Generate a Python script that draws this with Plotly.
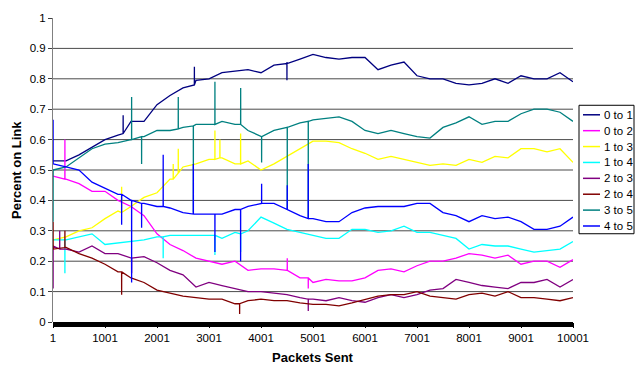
import plotly.graph_objects as go

# sample positions along the packet axis (category numbers)
packets = list(range(1, 10002, 250))

series_names = ["0 to 1", "0 to 2", "1 to 3", "1 to 4", "2 to 3", "2 to 4", "3 to 5", "4 to 5"]
series_colors = ["#000080", "#FF00FF", "#FFFF00", "#00FFFF", "#800080", "#800000", "#008080", "#0000FF"]

x_tick_vals = [1, 1001, 2001, 3001, 4001, 5001, 6001, 7001, 8001, 9001, 10001]
x_tick_text = ["1", "1001", "2001", "3001", "4001", "5001", "6001", "7001", "8001", "9001", "10001"]
y_tick_vals = [0, 0.1, 0.2, 0.3, 0.4, 0.5, 0.6, 0.7, 0.8, 0.9, 1.0]
y_tick_text = ["0", "0.1", "0.2", "0.3", "0.4", "0.5", "0.6", "0.7", "0.8", "0.9", "1"]

# ---- values read at each sample position ----
s01 = [0.53, 0.53, 0.55, 0.575, 0.60, 0.615, 0.66, 0.66, 0.715, 0.745, 0.77, 0.795, 0.80, 0.82,
       0.825, 0.83, 0.82, 0.845, 0.855, 0.865, 0.88, 0.87, 0.865, 0.87, 0.87, 0.83, 0.845, 0.855,
       0.81, 0.80, 0.80, 0.785, 0.78, 0.785, 0.80, 0.785, 0.81, 0.80, 0.80, 0.82, 0.79]
s02 = [0.48, 0.47, 0.455, 0.43, 0.43, 0.40, 0.38, 0.35, 0.29, 0.255, 0.235, 0.21, 0.20, 0.19,
       0.20, 0.17, 0.175, 0.175, 0.17, 0.145, 0.13, 0.14, 0.135, 0.135, 0.145, 0.17, 0.175, 0.165,
       0.185, 0.20, 0.20, 0.21, 0.225, 0.22, 0.21, 0.22, 0.19, 0.20, 0.20, 0.18, 0.205]
s13 = [0.27, 0.28, 0.30, 0.31, 0.34, 0.365, 0.38, 0.41, 0.425, 0.47, 0.51, 0.52, 0.535, 0.54,
       0.52, 0.53, 0.50, 0.52, 0.545, 0.57, 0.595, 0.595, 0.59, 0.57, 0.555, 0.535, 0.545, 0.535,
       0.525, 0.515, 0.52, 0.515, 0.535, 0.525, 0.545, 0.54, 0.57, 0.57, 0.56, 0.57, 0.525]
s14 = [0.27, 0.27, 0.28, 0.29, 0.255, 0.26, 0.265, 0.27, 0.28, 0.285, 0.285, 0.285, 0.285, 0.275,
       0.295, 0.30, 0.345, 0.325, 0.305, 0.295, 0.285, 0.275, 0.275, 0.305, 0.305, 0.295, 0.30, 0.315,
       0.295, 0.295, 0.285, 0.275, 0.24, 0.255, 0.25, 0.25, 0.24, 0.23, 0.235, 0.24, 0.265]
s23 = [0.25, 0.24, 0.23, 0.25, 0.225, 0.225, 0.21, 0.215, 0.195, 0.17, 0.155, 0.115, 0.13, 0.12,
       0.11, 0.10, 0.10, 0.095, 0.09, 0.08, 0.075, 0.07, 0.08, 0.07, 0.065, 0.08, 0.09, 0.08,
       0.09, 0.105, 0.11, 0.14, 0.13, 0.12, 0.115, 0.11, 0.13, 0.13, 0.14, 0.115, 0.14]
s24 = [0.24, 0.245, 0.225, 0.21, 0.19, 0.165, 0.145, 0.13, 0.105, 0.095, 0.085, 0.08, 0.075, 0.075,
       0.06, 0.07, 0.075, 0.07, 0.07, 0.063, 0.058, 0.058, 0.053, 0.063, 0.074, 0.085, 0.09, 0.09,
       0.10, 0.085, 0.08, 0.075, 0.09, 0.095, 0.085, 0.10, 0.08, 0.08, 0.075, 0.07, 0.08]
s35 = [0.50, 0.51, 0.54, 0.57, 0.585, 0.59, 0.60, 0.61, 0.63, 0.63, 0.64, 0.65, 0.65, 0.66,
       0.65, 0.63, 0.61, 0.63, 0.64, 0.655, 0.665, 0.67, 0.675, 0.66, 0.63, 0.62, 0.63, 0.62,
       0.61, 0.605, 0.64, 0.655, 0.675, 0.65, 0.66, 0.66, 0.685, 0.70, 0.70, 0.69, 0.66]
s45 = [0.53, 0.51, 0.50, 0.46, 0.44, 0.42, 0.40, 0.39, 0.38, 0.375, 0.36, 0.355, 0.355, 0.355,
       0.37, 0.38, 0.39, 0.39, 0.37, 0.35, 0.34, 0.33, 0.33, 0.36, 0.375, 0.38, 0.38, 0.38,
       0.39, 0.39, 0.36, 0.35, 0.33, 0.35, 0.34, 0.345, 0.33, 0.305, 0.305, 0.315, 0.345]

# ---- single-packet spikes: position, level around it, spike value ----
s01_spike_at = [1350, 2720, 4500]
s01_spike_base = [0.62, 0.78, 0.85]
s01_spike_peak = [0.68, 0.84, 0.795]

s02_spike_at = [230, 4506, 4910]
s02_spike_base = [0.47, 0.17, 0.145]
s02_spike_peak = [0.60, 0.21, 0.11]

s13_spike_at = [1321, 2313, 2410, 3115, 3211, 3609]
s13_spike_base = [0.36, 0.47, 0.49, 0.535, 0.54, 0.52]
s13_spike_peak = [0.445, 0.52, 0.57, 0.63, 0.60, 0.62]

s14_spike_at = [230, 2120, 3115, 3609]
s14_spike_base = [0.27, 0.28, 0.285, 0.29]
s14_spike_peak = [0.16, 0.21, 0.22, 0.23]

s23_spike_at = [3, 130, 1513, 4910]
s23_spike_base = [0.25, 0.24, 0.21, 0.075]
s23_spike_peak = [0.11, 0.30, 0.16, 0.036]

s24_spike_at = [3, 230, 1321, 3590]
s24_spike_base = [0.24, 0.245, 0.165, 0.06]
s24_spike_peak = [0.33, 0.30, 0.09, 0.026]

s35_spike_at = [3, 1513, 1705, 2410, 2700, 3115, 3610, 4013, 4506, 4910]
s35_spike_base = [0.50, 0.60, 0.61, 0.635, 0.645, 0.65, 0.65, 0.61, 0.64, 0.66]
s35_spike_peak = [0.33, 0.74, 0.52, 0.74, 0.36, 0.79, 0.77, 0.525, 0.37, 0.34]

s45_spike_at = [3, 1321, 1513, 1705, 2120, 2700, 3115, 3609, 4013, 4506, 4910]
s45_spike_base = [0.52, 0.42, 0.40, 0.39, 0.38, 0.355, 0.355, 0.37, 0.39, 0.37, 0.34]
s45_spike_peak = [0.665, 0.32, 0.13, 0.31, 0.55, 0.52, 0.23, 0.20, 0.455, 0.45, 0.52]

series_values = [s01, s02, s13, s14, s23, s24, s35, s45]
series_spikes = [
    (s01_spike_at, s01_spike_base, s01_spike_peak),
    (s02_spike_at, s02_spike_base, s02_spike_peak),
    (s13_spike_at, s13_spike_base, s13_spike_peak),
    (s14_spike_at, s14_spike_base, s14_spike_peak),
    (s23_spike_at, s23_spike_base, s23_spike_peak),
    (s24_spike_at, s24_spike_base, s24_spike_peak),
    (s35_spike_at, s35_spike_base, s35_spike_peak),
    (s45_spike_at, s45_spike_base, s45_spike_peak),
]


def build(vals, spikes):
    pts = list(zip(packets, vals))
    at, base, peak = spikes
    for a, b, p in zip(at, base, peak):
        pts += [(a - 1, b), (a, p), (a + 1, b)]
    pts.sort(key=lambda t: t[0])
    return [t[0] for t in pts], [t[1] for t in pts]


FONT = "Arial, 'Liberation Sans', sans-serif"
W, H = 635, 372
L, R, T, B = 53, 62, 12, 50
PW, PH = W - L - R, H - T - B


def px_x(px):
    return (px - L) / PW


def px_y(py):
    return (H - B - py) / PH


fig = go.Figure()
for name, color, vals, spk in zip(series_names, series_colors, series_values, series_spikes):
    xs, ys = build(vals, spk)
    fig.add_trace(go.Scatter(x=xs, y=ys, mode="lines", name=name,
                             line=dict(color=color, width=1.3), showlegend=False,
                             hoverinfo="skip"))

shapes = []
# horizontal gridlines 0.1..0.9
for v in y_tick_vals[1:-1]:
    shapes.append(dict(type="line", xref="paper", yref="y", x0=0, x1=1, y0=v, y1=v,
                       line=dict(color="#4a4a4a", width=1), layer="below"))
# dense category tick band along the x axis
shapes.append(dict(type="rect", xref="x", yref="paper", x0=1, x1=10001,
                   y0=0, y1=-5 / PH, fillcolor="black", line=dict(width=0)))

annotations = []
# legend box
shapes.append(dict(type="rect", xref="paper", yref="paper",
                   x0=px_x(579), x1=px_x(634), y0=px_y(232), y1=px_y(101),
                   fillcolor="white", line=dict(color="black", width=1)))
for i, (name, color) in enumerate(zip(series_names, series_colors)):
    py = 110.7 + 16.2 * i
    shapes.append(dict(type="line", xref="paper", yref="paper",
                       x0=px_x(583), x1=px_x(600), y0=px_y(py), y1=px_y(py),
                       line=dict(color=color, width=1.5)))
    annotations.append(dict(xref="paper", yref="paper", x=px_x(602), y=px_y(py),
                            text=name, showarrow=False, xanchor="left", yanchor="middle",
                            font=dict(family=FONT, size=11.5, color="black")))

annotations.append(dict(xref="paper", yref="paper", x=px_x(16), y=0.5, text="<b>Percent on Link</b>",
                        textangle=-90, showarrow=False, xanchor="center", yanchor="middle",
                        font=dict(family=FONT, size=13, color="black")))
annotations.append(dict(xref="paper", yref="paper", x=0.5, y=px_y(358), text="<b>Packets Sent</b>",
                        showarrow=False, xanchor="center", yanchor="middle",
                        font=dict(family=FONT, size=13, color="black")))

fig.update_layout(
    width=W, height=H,
    margin=dict(l=L, r=R, t=T, b=B, pad=0),
    paper_bgcolor="white", plot_bgcolor="white",
    shapes=shapes, annotations=annotations,
    xaxis=dict(range=[1, 10001], tickmode="array", tickvals=x_tick_vals, ticktext=x_tick_text,
               showgrid=False, zeroline=False, showline=False,
               ticks="outside", ticklen=5, tickcolor="black",
               tickfont=dict(family=FONT, size=11.5, color="black")),
    yaxis=dict(range=[0, 1], tickmode="array", tickvals=y_tick_vals, ticktext=y_tick_text,
               showgrid=False, zeroline=False, showline=True, linecolor="#808080", linewidth=1,
               ticks="outside", ticklen=4, tickcolor="#404040",
               tickfont=dict(family=FONT, size=11.5, color="black")),
    showlegend=False,
)

# remove the browser's default page margin so the figure sits at the window origin
fig.write_html("out.html",
               config={"displayModeBar": False, "staticPlot": True},
               post_script="document.body.style.margin='0';document.body.style.overflow='hidden';")
